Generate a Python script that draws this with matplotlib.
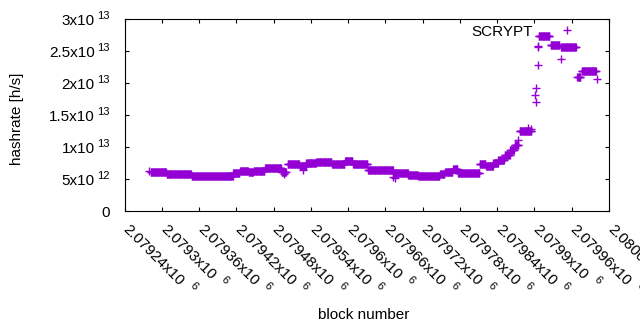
import numpy as np
import matplotlib
matplotlib.use("Agg")
import matplotlib.pyplot as plt
from matplotlib.transforms import Affine2D

plt.rcParams['font.family'] = ['Liberation Sans', 'DejaVu Sans']
plt.rcParams['font.size'] = 11

# Runs of constant hashrate (start block, end block exclusive, hashrate x1e12)
seg_start = [2079282, 2079292, 2079308, 2079348, 2079415, 2079426, 2079440, 2079448,
             2079466, 2079493, 2079503, 2079522, 2079533, 2079549, 2079574, 2079595,
             2079608, 2079632, 2079673, 2079697, 2079713, 2079748, 2079756, 2079769,
             2079777, 2079812, 2079822, 2079834, 2079842, 2079852, 2079861, 2079868,
             2079876, 2079907, 2079926, 2079943, 2079969, 2079976]
seg_end = [2079292, 2079308, 2079348, 2079415, 2079426, 2079440, 2079448, 2079466,
           2079493, 2079501, 2079522, 2079533, 2079549, 2079574, 2079595, 2079608,
           2079632, 2079673, 2079697, 2079713, 2079748, 2079756, 2079769, 2079777,
           2079812, 2079822, 2079834, 2079842, 2079852, 2079861, 2079868, 2079875,
           2079896, 2079925, 2079941, 2079968, 2079975, 2080000]
seg_value = [6.15, 6.04, 5.73, 5.42, 5.95, 6.25, 6.04, 6.30,
             6.67, 6.14, 7.34, 7.00, 7.45, 7.70, 7.29, 7.86,
             7.34, 6.40, 5.99, 5.62, 5.47, 5.73, 6.14, 6.51,
             5.89, 7.29, 7.00, 7.45, 8.00, 8.75, 9.50, 10.3,
             12.55, 27.3, 25.9, 25.6, 21.0, 21.9]

# Isolated blocks (block, hashrate x1e12)
single_block = [2079279, 2079497, 2079528, 2079673, 2079675, 2079873, 2079890,
                2079895, 2079901, 2079902, 2079903, 2079905, 2079905, 2079906,
                2079942, 2080001]
single_value = [6.2, 5.73, 6.4, 5.27, 5.1, 11.1, 13.0,
                12.8, 18.1, 19.2, 17.1, 22.8, 25.6, 25.8,
                23.7, 20.7]

xticks = [2079240, 2079300, 2079360, 2079420, 2079480, 2079540, 2079600,
          2079660, 2079720, 2079780, 2079840, 2079900, 2079960, 2080020]
xtick_base = ['2.07924x10', '2.0793x10', '2.07936x10', '2.07942x10', '2.07948x10',
              '2.07954x10', '2.0796x10', '2.07966x10', '2.07972x10', '2.07978x10',
              '2.07984x10', '2.0799x10', '2.07996x10', '2.08002x10']
xtick_exp = ['6'] * 14
yticks = [0, 5e12, 1e13, 1.5e13, 2e13, 2.5e13, 3e13]
ytick_base = ['0', '5x10', '1x10', '1.5x10', '2x10', '2.5x10', '3x10']
ytick_exp = ['', '12', '13', '13', '13', '13', '13']

blocks = []
values = []
for s, e, v in zip(seg_start, seg_end, seg_value):
    for b in range(s, e):
        blocks.append(b)
        values.append(v * 1e12)
blocks += single_block
values += [v * 1e12 for v in single_value]

W, H = 640, 330
fig = plt.figure(figsize=(W / 100, H / 100), dpi=100)
L, R, T, B = 124.5, 609, 19, 211
ax = fig.add_axes([L / W, 1 - B / H, (R - L) / W, (B - T) / H])

ax.plot(blocks, values, linestyle='none', marker='+', ms=5.2, mew=1.0,
        color='#9400D3', label='SCRYPT')

ax.set_xlim(2079240, 2080020)
ax.set_ylim(0, 3e13)
ax.set_xticks(xticks)
ax.set_xticklabels([])
ax.set_yticks(yticks)
ax.set_yticklabels([])

for sp in ax.spines.values():
    sp.set_linewidth(0.8)
ax.tick_params(direction='in', length=3, width=0.8, top=True, right=True)

BASE_FS = 11
SUP_FS = 8
renderer = fig.canvas.get_renderer()


def text_width(s, fs):
    t = fig.text(0, 0, s, fontsize=fs)
    w = t.get_window_extent(renderer).width
    t.remove()
    return w


# y tick labels: base + superscript exponent
ytrans = ax.get_yaxis_transform()
for v, b, e in zip(yticks, ytick_base, ytick_exp):
    if e:
        ax.text(0, v, b, fontsize=BASE_FS, ha='right', va='baseline',
                transform=ytrans + Affine2D().translate(-29.9, -5.7), clip_on=False)
        ax.text(0, v, e, fontsize=SUP_FS, ha='left', va='baseline',
                transform=ytrans + Affine2D().translate(-27.7, 0.3), clip_on=False)
    else:
        ax.text(0, v, b, fontsize=BASE_FS, ha='right', va='baseline',
                transform=ytrans + Affine2D().translate(-15.0, -5.7), clip_on=False)

# x tick labels: rotated -45 degrees, base + superscript exponent
xtrans = ax.get_xaxis_transform()
c = np.sqrt(0.5)
bx, by = -2.0, -19.0
gap, rise = 7.0, 7.5
for t, b, e in zip(xticks, xtick_base, xtick_exp):
    ax.text(t, 0, b, fontsize=BASE_FS, rotation=-45, rotation_mode='anchor',
            ha='left', va='baseline',
            transform=xtrans + Affine2D().translate(bx, by), clip_on=False)
    w = text_width(b, BASE_FS)
    sx = bx + (w + gap) * c + rise * c
    sy = by - (w + gap) * c + rise * c
    ax.text(t, 0, e, fontsize=SUP_FS, rotation=-45, rotation_mode='anchor',
            ha='left', va='baseline',
            transform=xtrans + Affine2D().translate(sx, sy), clip_on=False)

fig.text(17 / W, 1 - 119 / H, 'hashrate [h/s]', rotation=90, ha='center', va='center')
fig.text(364 / W, 1 - 315 / H, 'block number', ha='center', va='center')

ax.legend(loc='center right', bbox_to_anchor=(582 / W, 1 - 31.7 / H),
          bbox_transform=fig.transFigure, frameon=False, markerfirst=False,
          handlelength=2, handletextpad=1.2, borderpad=0, borderaxespad=0,
          fontsize=11, numpoints=1)

fig.savefig('out.png', dpi=100)
